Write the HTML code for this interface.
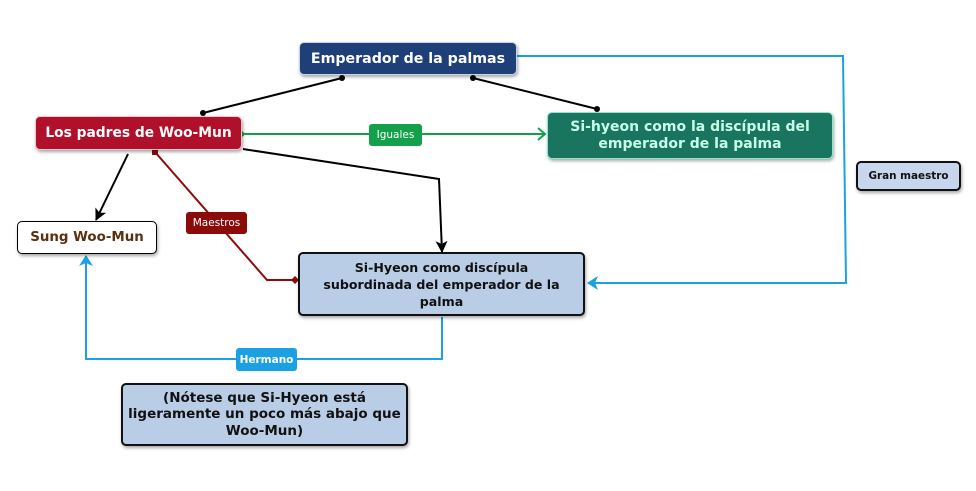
<!DOCTYPE html>
<html><head><meta charset="utf-8"><style>
html,body{margin:0;padding:0;background:#fff;}
body{width:976px;height:491px;position:relative;overflow:hidden;font-family:"DejaVu Sans","Liberation Sans",sans-serif;}
.b{position:absolute;box-sizing:border-box;display:flex;align-items:center;justify-content:center;text-align:center;font-weight:bold;border-radius:5px;}
.lbl{position:absolute;box-sizing:border-box;display:flex;align-items:center;justify-content:center;color:#fff;border-radius:3px;font-size:10.5px;}
svg{position:absolute;left:0;top:0;}
</style></head><body>
<svg width="976" height="491" viewBox="0 0 976 491">
<defs>
<marker id="ab" markerWidth="14" markerHeight="14" refX="11" refY="6" orient="auto" markerUnits="userSpaceOnUse"><path d="M0,0 L12,6 L0,12 L3,6 Z" fill="#000"/></marker>
<marker id="ag" markerWidth="12" markerHeight="14" refX="9" refY="7" orient="auto" markerUnits="userSpaceOnUse"><path d="M2,1 L9,7 L2,13" fill="none" stroke="#13a04b" stroke-width="2"/></marker>
<marker id="abl" markerWidth="14" markerHeight="14" refX="10" refY="7" orient="auto" markerUnits="userSpaceOnUse"><path d="M0,0 L11,7 L0,14 L3,7 Z" fill="#1ba1e2"/></marker>
</defs>
<!-- black lines -->
<line x1="342" y1="78" x2="203" y2="113" stroke="#000" stroke-width="2"/>
<circle cx="342" cy="78" r="3" fill="#000"/><circle cx="203" cy="113" r="3" fill="#000"/>
<line x1="473" y1="78" x2="597" y2="109" stroke="#000" stroke-width="2"/>
<circle cx="473" cy="78" r="3" fill="#000"/><circle cx="597" cy="109" r="3" fill="#000"/>
<line x1="128" y1="154" x2="96" y2="220" stroke="#000" stroke-width="2" marker-end="url(#ab)"/>
<polyline points="243,149 439,179 442,252" fill="none" stroke="#000" stroke-width="2" marker-end="url(#ab)"/>
<!-- green -->
<line x1="244" y1="134" x2="545" y2="134" stroke="#13a04b" stroke-width="2" marker-end="url(#ag)" marker-start="url(#ag)"/>
<!-- red -->
<polyline points="155,152 267,280 296,280" fill="none" stroke="#8b0a0a" stroke-width="2"/>
<rect x="152" y="149" width="6" height="6" fill="#8b0a0a"/>
<path d="M291,280 L295,276 L299,280 L295,284 Z" fill="#8b0a0a"/>
<!-- blue -->
<polyline points="517,56 843,56 846,283 588,283" fill="none" stroke="#1ba1e2" stroke-width="2" marker-end="url(#abl)"/>
<polyline points="442,317 442,359 86,359 86,256" fill="none" stroke="#1ba1e2" stroke-width="2" marker-end="url(#abl)"/>
</svg>

<div class="b" style="left:299px;top:42px;width:218px;height:33px;background:#1e3f78;color:#fff;font-size:14.2px;border:1.5px solid #c8d4e8;box-shadow:1px 2px 3px rgba(0,0,0,0.35);">Emperador de la palmas</div>

<div class="b" style="left:35px;top:116px;width:207px;height:34px;background:#b0102a;color:#fff;font-size:13.8px;border:1.5px solid #f0c8cc;box-shadow:1px 2px 3px rgba(0,0,0,0.35);">Los padres de Woo-Mun</div>

<div class="b" style="left:547px;top:112px;width:286px;height:47px;background:#1a7560;color:#c8ffe8;font-size:14px;line-height:17px;border:1.5px solid #8de8c8;box-shadow:1px 2px 3px rgba(0,0,0,0.35);">Si-hyeon como la discípula del<br>emperador de la palma</div>

<div class="b" style="left:17px;top:221px;width:140px;height:33px;background:#fff;color:#5a3010;font-size:13.4px;border:1.5px solid #000;box-shadow:1px 2px 3px rgba(0,0,0,0.35);">Sung Woo-Mun</div>

<div class="b" style="left:298px;top:252px;width:287px;height:64px;background:#b9cde6;color:#111;font-size:12.6px;line-height:17px;border:2px solid #111;box-shadow:1px 2px 3px rgba(0,0,0,0.35);">Si-Hyeon como discípula<br>subordinada del emperador de la<br>palma</div>

<div class="b" style="left:121px;top:383px;width:287px;height:63px;background:#b9cde6;color:#111;font-size:13.5px;line-height:16.5px;border:2px solid #111;box-shadow:1px 2px 3px rgba(0,0,0,0.35);">(Nótese que Si-Hyeon está<br>ligeramente un poco más abajo que<br>Woo-Mun)</div>

<div class="b" style="left:856px;top:161px;width:105px;height:30px;background:#c6d6ec;color:#111;font-size:10.4px;border:2px solid #111;box-shadow:1px 2px 3px rgba(0,0,0,0.35);">Gran maestro</div>

<div class="lbl" style="left:369px;top:124px;width:53px;height:22px;background:#13a04b;">Iguales</div>
<div class="lbl" style="left:186px;top:212px;width:61px;height:22px;background:#8b0a0a;">Maestros</div>
<div class="lbl" style="left:236px;top:348px;width:61px;height:23px;background:#1ba1e2;font-weight:bold;">Hermano</div>
</body></html>
